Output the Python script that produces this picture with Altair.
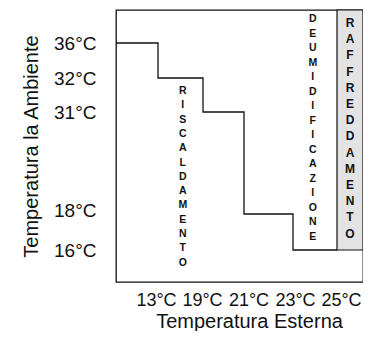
import altair as alt
import pandas as pd

# step boundary (outside temperature) and room temperature levels
x_steps = [10, 13, 19, 21, 23, 25]
y_steps = [36, 32, 31, 18, 16, 16]
x_ticks = [13, 19, 21, 23, 25]
y_ticks = [36, 32, 31, 18, 16]

zones = ["RISCALDAMENTO", "DEUMIDIFICAZIONE", "RAFFREDDAMENTO"]
zone_x = [16.3, 23.9, 26]
zone_y = [32, 38, 38]

cool_x = [25, 27]
cool_y = [16, 38]

# piecewise scales (non-uniform spacing as in the original)
x_dom = [10, 13, 19, 21, 23, 25, 27]
x_rng = [0, 42, 87, 128, 177, 221, 247]
y_dom = [14, 16, 18, 31, 32, 36, 38]
y_rng = [272, 240, 204, 102, 68, 33, 0]

xs = alt.Scale(domain=x_dom, range=x_rng, zero=False, nice=False)
ys = alt.Scale(domain=y_dom, range=y_rng, zero=False, nice=False)

x_axis = alt.Axis(
    values=x_ticks, labelExpr="datum.value + '°C'", title="Temperatura Esterna",
    grid=False, domain=False, ticks=False, tickSize=0, labelPadding=9,
    labelAngle=0, labelFontSize=18,
    titleBaseline="alphabetic", titleX=133, titleY=45, titleAlign="center",
    labelOffset={"condition": [
        {"test": "datum.value == 13", "value": -2},
        {"test": "datum.value == 19", "value": -1},
        {"test": "datum.value == 21", "value": 4.5},
        {"test": "datum.value == 23", "value": 2},
        {"test": "datum.value == 25", "value": 4},
    ], "value": 0},
)
y_axis = alt.Axis(
    values=y_ticks, labelExpr="datum.value + '°C'", title="Temperatura la Ambiente",
    grid=False, domain=False, ticks=False, tickSize=0, labelPadding=20,
    titleBaseline="alphabetic", titleX=-79, titleAngle=270,
    labelOffset={"condition": {"test": "datum.value == 18", "value": -4}, "value": 0},
)

step_df = pd.DataFrame({"x": x_steps, "y": y_steps})
cool_df = pd.DataFrame({"x": [cool_x[0]], "x2": [cool_x[1]], "y": [cool_y[0]], "y2": [cool_y[1]]})
zone_df = pd.DataFrame({"x": zone_x, "y": zone_y, "label": zones})
zone_df["text"] = zone_df["label"].apply(lambda s: "\n".join(list(s)))

rect = alt.Chart(cool_df).mark_rect(fill="#e3e3e3", stroke="#111", strokeWidth=1.2).encode(
    x=alt.X("x:Q", scale=xs, axis=x_axis),
    x2="x2:Q",
    y=alt.Y("y:Q", scale=ys, axis=y_axis),
    y2="y2:Q",
)

line = alt.Chart(step_df).mark_line(interpolate="step-after", color="#111", strokeWidth=1.3).encode(
    x=alt.X("x:Q", scale=xs, axis=x_axis),
    y=alt.Y("y:Q", scale=ys, axis=y_axis),
)

def zone_text(name, size, lh, dy):
    return alt.Chart(zone_df[zone_df["label"] == name]).mark_text(
        font="Liberation Sans", fontWeight="bold", fontSize=size, lineHeight=lh,
        lineBreak="\n", align="center", baseline="top", dy=dy, color="#111",
    ).encode(
        x=alt.X("x:Q", scale=xs, axis=x_axis),
        y=alt.Y("y:Q", scale=ys, axis=y_axis),
        text="text:N",
    )

t1 = zone_text("RISCALDAMENTO", 10.5, 14.3, 8)
t2 = zone_text("DEUMIDIFICAZIONE", 10.5, 14.5, 4)
t3 = zone_text("RAFFREDDAMENTO", 12, 16.2, 8)

chart = alt.layer(rect, line, t1, t2, t3).properties(
    width=247, height=272,
    autosize=alt.AutoSizeParams(type="none"),
    padding={"left": 108, "top": 2, "right": 0, "bottom": 49},
    background="white",
).configure_view(
    stroke="#111", strokeWidth=1.3,
).configure_axis(
    labelFont="Liberation Sans", labelFontSize=19, labelColor="#111",
    titleFont="Liberation Sans", titleFontSize=20, titleFontWeight="normal", titleColor="#111",
)

chart.save("out.html", embed_options={"renderer": "svg", "actions": False})
